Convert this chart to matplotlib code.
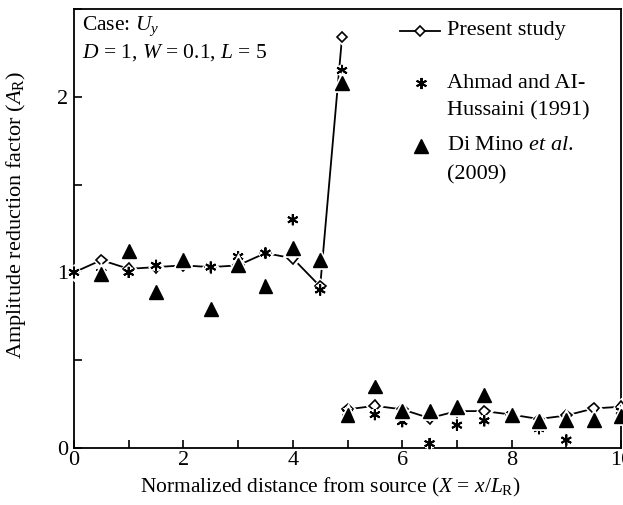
import matplotlib
matplotlib.use("Agg")
import matplotlib.pyplot as plt
import matplotlib.patheffects as pe
from matplotlib.ticker import MultipleLocator

plt.rcParams["font.family"] = ["Liberation Serif", "DejaVu Serif"]
plt.rcParams["mathtext.fontset"] = "custom"
plt.rcParams["mathtext.rm"] = "Liberation Serif"
plt.rcParams["mathtext.it"] = "Liberation Serif:italic"

# present study (two branches, line breaks at X = 5)
present_x_a = [0, 0.5, 1, 1.5, 2, 2.5, 3, 3.5, 4, 4.5, 4.9]
present_y_a = [1.0, 1.07, 1.02, 1.03, 1.04, 1.03, 1.04, 1.11, 1.08, 0.92, 2.34]
present_x_b = [5, 5.5, 6, 6.5, 7, 7.5, 8, 8.5, 9, 9.5, 10]
present_y_b = [0.22, 0.24, 0.22, 0.17, 0.21, 0.21, 0.19, 0.165, 0.185, 0.225, 0.235]

# Ahmad and Al-Hussaini (1991)
ahmad_x = [0, 0.5, 1, 1.5, 2, 2.5, 3, 3.5, 4, 4.5, 4.9,
           5, 5.5, 6, 6.5, 7, 7.5, 8, 8.5, 9, 9.5, 10]
ahmad_y = [1.0, 1.0, 1.0, 1.04, 1.06, 1.03, 1.09, 1.11, 1.30, 0.90, 2.15,
           0.20, 0.19, 0.15, 0.025, 0.13, 0.155, 0.19, 0.11, 0.045, 0.14, 0.21]

# Di Mino et al. (2009)
dimino_x = [0.5, 1, 1.5, 2, 2.5, 3, 3.5, 4, 4.5, 4.9,
            5, 5.5, 6, 6.5, 7, 7.5, 8, 8.5, 9, 9.5, 10]
dimino_y = [0.99, 1.12, 0.89, 1.07, 0.79, 1.04, 0.92, 1.14, 1.07, 2.08,
            0.19, 0.35, 0.21, 0.21, 0.235, 0.30, 0.19, 0.155, 0.16, 0.16, 0.18]

FS = 15.5

fig = plt.figure(figsize=(6.23, 5.05), dpi=100)
ax = fig.add_axes([0.1188, 0.1129, 0.878, 0.8693])

halo = [pe.Stroke(linewidth=3.5, foreground="white"), pe.Normal()]

for xs, ys in [(present_x_a, present_y_a), (present_x_b, present_y_b)]:
    ax.plot(xs, ys, color="black", lw=1.3, zorder=2.6, clip_on=False)
    ax.plot(xs, ys, ls="none", marker="D", ms=5.5, mfc="white", mec="black",
            mew=1.2, zorder=3, clip_on=False, path_effects=halo)

ax.plot(ahmad_x, ahmad_y, ls="none", marker=(6, 2, 0), ms=8, color="black",
        mew=1.4, zorder=3.1, clip_on=False, path_effects=halo)
ax.plot(dimino_x, dimino_y, ls="none", marker="^", ms=10, color="black",
        zorder=3.2, clip_on=False, path_effects=halo)

ax.set_xlim(0, 10)
ax.set_ylim(0, 2.5)
ax.xaxis.set_major_locator(MultipleLocator(2))
ax.xaxis.set_minor_locator(MultipleLocator(1))
ax.yaxis.set_major_locator(MultipleLocator(1))
ax.yaxis.set_minor_locator(MultipleLocator(0.5))
ax.tick_params(which="both", direction="in", length=6, width=1.2,
               labelsize=16, pad=2)
ax.tick_params(axis="y", which="both", pad=4)
for s in ax.spines.values():
    s.set_linewidth(1.3)

ax.set_xlabel(r"Normalized distance from source ($X$ = $x$/$L_{\mathrm{R}}$)",
              fontsize=FS)
ax.set_ylabel(r"Amplitude reduction factor ($A_{\mathrm{R}}$)", fontsize=16)
ax.xaxis.set_label_coords(0.468, -0.064)
ax.yaxis.set_label_coords(-0.084, 0.531)

ax.text(0.015, 0.96, r"Case: $U_y$", transform=ax.transAxes, fontsize=FS,
        va="center")
ax.text(0.015, 0.90, r"$D$ = 1, $W$ = 0.1, $L$ = 5", transform=ax.transAxes,
        fontsize=FS, va="center")

# legend drawn by hand to keep the uneven spacing
tr = ax.transAxes
ax.plot([0.596, 0.669], [0.950, 0.950], color="black", lw=1.3, transform=tr)
ax.plot([0.6325], [0.950], marker="D", ms=5.5, mfc="white", mec="black",
        mew=1.2, transform=tr)
ax.plot([0.634], [0.831], marker=(6, 2, 0), ms=8, color="black", mew=1.4,
        transform=tr)
ax.plot([0.634], [0.688], marker="^", ms=10, color="black", transform=tr)
ax.text(0.682, 0.950, "Present study", transform=tr, fontsize=16, va="center")
ax.text(0.682, 0.831, "Ahmad and AI-", transform=tr, fontsize=16, va="center")
ax.text(0.682, 0.768, "Hussaini (1991)", transform=tr, fontsize=16, va="center")
ax.text(0.682, 0.688, r"Di Mino $et$ $al$.", transform=tr, fontsize=16,
        va="center")
ax.text(0.682, 0.622, "(2009)", transform=tr, fontsize=16, va="center")

fig.savefig("out.png", dpi=100)
